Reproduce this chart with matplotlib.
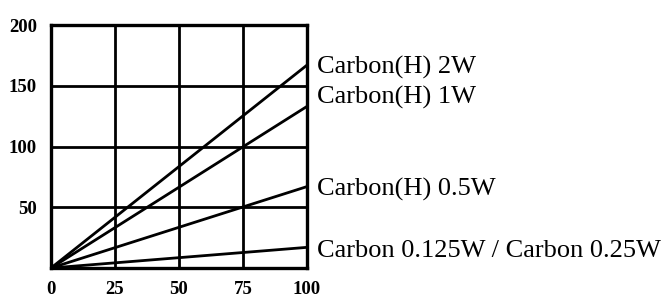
import matplotlib
matplotlib.use("Agg")
import matplotlib.pyplot as plt

x_vals = [0, 100]
series_names = ["Carbon(H) 2W", "Carbon(H) 1W", "Carbon(H) 0.5W", "Carbon 0.125W / Carbon 0.25W"]
series_end = [167, 133, 67, 17]
label_y = [165, 140, 65, 14]
x_ticks = [0, 25, 50, 75, 100]
y_ticks = [50, 100, 150, 200]

fig = plt.figure(figsize=(6.67, 2.98), dpi=100)
ax = fig.add_axes([51/667, 30/298, 256/667, 243/298])
for name, end in zip(series_names, series_end):
    ax.plot(x_vals, [0, end], color="black", lw=2.0, solid_capstyle="butt", clip_on=False)

ax.set_xlim(0, 100)
ax.set_ylim(0, 200)
ax.set_xticks(x_ticks)
ax.set_yticks(y_ticks)
ax.set_xticklabels([str(t) for t in x_ticks])
ax.set_yticklabels([str(t) for t in y_ticks])
for lab in ax.get_xticklabels() + ax.get_yticklabels():
    lab.set_fontfamily("Liberation Serif")
    lab.set_fontweight("bold")
    lab.set_fontsize(13.5)
ax.tick_params(axis="both", length=0)
ax.tick_params(axis="x", pad=9)
ax.tick_params(axis="y", pad=10)
ax.grid(True, color="black", lw=2.0)
ax.set_axisbelow(True)
for s in ax.spines.values():
    s.set_linewidth(2.4)

for name, ly in zip(series_names, label_y):
    ax.annotate(name, xy=(1, ly), xycoords=("axes fraction", "data"),
                xytext=(10, 0), textcoords="offset pixels",
                ha="left", va="center", fontsize=19,
                family="Liberation Serif", annotation_clip=False)

fig.savefig("out.png", dpi=100)
